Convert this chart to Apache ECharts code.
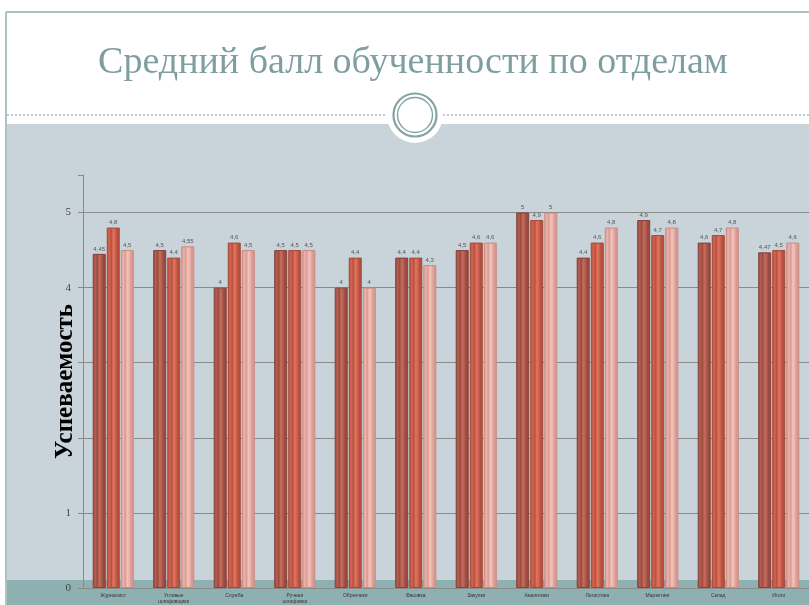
<!DOCTYPE html>
<html>
<head>
<meta charset="utf-8">
<script src="https://cdn.jsdelivr.net/npm/echarts@6/dist/echarts.min.js"></script>
<style>html,body{margin:0;padding:0;background:#fff;}#c{width:809px;height:605px;}</style>
</head>
<body>
<div id="c"></div>
<script>
var titleText = 'Средний балл обученности по отделам';
var axisName = 'Успеваемость';
var categories = ['Журналист', 'Угловые\nшлифовщики', 'Служба', 'Ручная\nшлифовка', 'Обрезчики', 'Фасовка', 'Закупки', 'Аналитики', 'Логистика', 'Маркетинг', 'Склад', 'Итого'];
var series1 = [4.45, 4.5, 4.0, 4.5, 4.0, 4.4, 4.5, 5.0, 4.4, 4.9, 4.6, 4.47];
var series2 = [4.8, 4.4, 4.6, 4.5, 4.4, 4.4, 4.6, 4.9, 4.6, 4.7, 4.7, 4.5];
var series3 = [4.5, 4.55, 4.5, 4.5, 4.0, 4.3, 4.6, 5.0, 4.8, 4.8, 4.8, 4.6];
var yTickLabels = [0, 1, 4, 5];

function grad(edge, mid, light) {
  return new echarts.graphic.LinearGradient(0, 0, 1, 0, [
    {offset: 0, color: edge}, {offset: 0.2, color: mid}, {offset: 0.35, color: edge},
    {offset: 0.5, color: light}, {offset: 0.65, color: mid}, {offset: 0.8, color: edge},
    {offset: 1, color: edge}
  ]);
}
function fmt(p) { return String(p.value).replace('.', ','); }

var chart = echarts.init(document.getElementById('c'), null, {renderer: 'canvas'});
var lbl = {show: true, position: 'top', distance: 2, fontSize: 6, color: '#555', formatter: fmt, fontFamily: 'Liberation Sans'};
function mk(name, data, edge, mid, light, border) {
  return {
    name: name, type: 'bar', data: data, barWidth: 13, barGap: '8%',
    itemStyle: {color: grad(edge, mid, light), borderColor: border, borderWidth: 1},
    label: lbl, z: 5
  };
}
chart.setOption({
  animation: false,
  backgroundColor: '#ffffff',
  graphic: [
    {type: 'rect', shape: {x: 7, y: 124, width: 802, height: 456}, style: {fill: '#c8d3da'}, z: -10, silent: true},
    {type: 'rect', shape: {x: 7, y: 580, width: 802, height: 25}, style: {fill: '#8fb0b1'}, z: -10, silent: true},
    {type: 'line', shape: {x1: 6, y1: 12, x2: 809, y2: 12}, style: {stroke: '#95acac', lineWidth: 1.5}, z: -9},
    {type: 'line', shape: {x1: 6, y1: 12, x2: 6, y2: 605}, style: {stroke: '#95acac', lineWidth: 1.5}, z: -9},
    {type: 'line', shape: {x1: 7, y1: 115, x2: 388, y2: 115}, style: {stroke: '#7f9c9c', lineWidth: 1, lineDash: [2, 2]}, z: -9},
    {type: 'line', shape: {x1: 443, y1: 115, x2: 809, y2: 115}, style: {stroke: '#7f9c9c', lineWidth: 1, lineDash: [2, 2]}, z: -9},
    {type: 'circle', shape: {cx: 415, cy: 115, r: 28}, style: {fill: '#ffffff'}, z: -8},
    {type: 'circle', shape: {cx: 415, cy: 115, r: 21.5}, style: {fill: '#ffffff', stroke: '#85a2a2', lineWidth: 2.2}, z: -7},
    {type: 'circle', shape: {cx: 415, cy: 115, r: 17.5}, style: {fill: 'none', stroke: '#85a2a2', lineWidth: 1.4}, z: -7},
    {type: 'text', x: 413, y: 63, style: {text: titleText, fontFamily: 'Liberation Serif', fontSize: 38, fill: '#7f9ea0', textAlign: 'center', textVerticalAlign: 'middle'}, z: 10}
  ],
  grid: {left: 83, top: 175, right: -11, bottom: 16, containLabel: false},
  xAxis: {
    type: 'category', data: categories,
    axisLine: {show: true, lineStyle: {color: '#8a8a8a'}},
    axisTick: {show: false},
    axisLabel: {fontSize: 5, color: '#333', margin: 5, interval: 0, lineHeight: 6, fontFamily: 'Liberation Sans'}
  },
  yAxis: {
    type: 'value', min: 0, max: 5.5, interval: 1,
    name: axisName, nameLocation: 'middle', nameGap: 5, nameMoveOverlap: false,
    nameTextStyle: {fontFamily: 'Liberation Serif', fontWeight: 'bold', fontSize: 25, color: '#000'},
    axisLine: {show: true, lineStyle: {color: '#8a8a8a'}},
    axisTick: {show: true, inside: false, length: 5, lineStyle: {color: '#8a8a8a'}},
    axisLabel: {fontSize: 11, color: '#444', margin: 12, fontFamily: 'Liberation Serif',
      formatter: function (v) { return yTickLabels.indexOf(v) >= 0 ? String(v) : ''; }},
    splitLine: {show: true, showMinLine: false, showMaxLine: false, lineStyle: {color: '#8a8a8a', width: 1}}
  },
  series: [
    mk('s1', series1, '#9a4a3e', '#b75e50', '#c46e60', '#85403a'),
    mk('s2', series2, '#b5503f', '#d4644f', '#e07562', '#a4483a'),
    mk('s3', series3, '#d99a92', '#ebb3ab', '#f2c4bd', '#c88c84')
  ]
});
</script>
</body>
</html>
